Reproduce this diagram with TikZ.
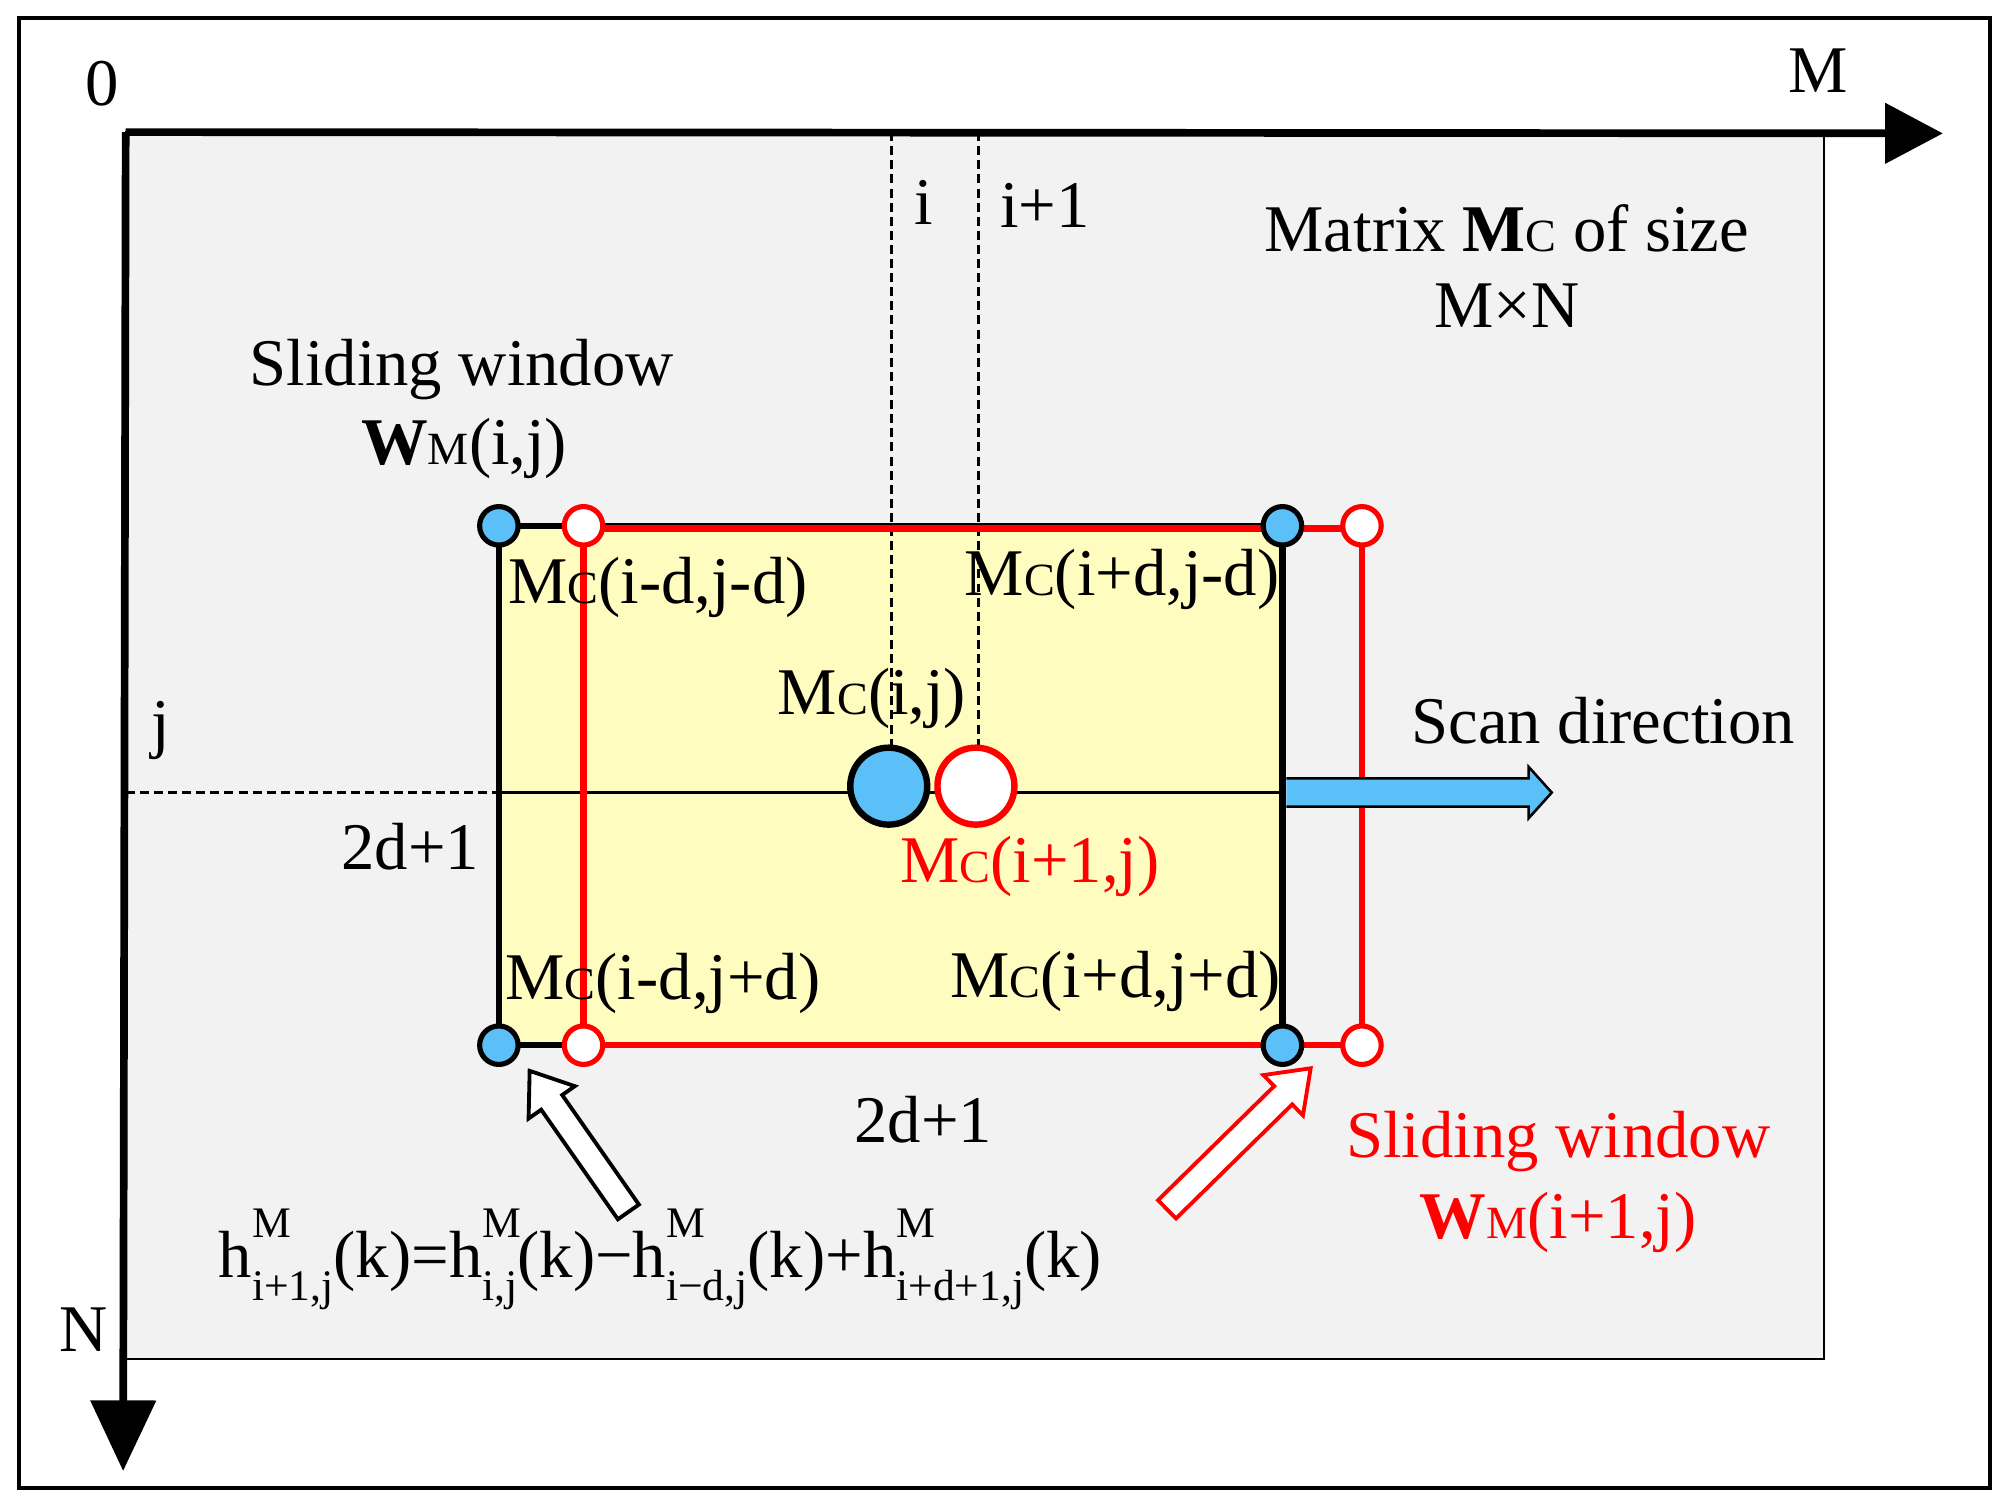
\documentclass[tikz,border=0pt]{standalone}
\usepackage{fontspec}
\setmainfont{Liberation Serif}
\usetikzlibrary{arrows.meta,calc}
\definecolor{skyb}{RGB}{91,192,248}
\begin{document}
\newcommand{\Mc}{M{\fontsize{36}{38}\selectfont C}}
\newcommand{\Wm}{\textbf{W}{\fontsize{36}{38}\selectfont M}}
\newcommand{\hsub}[1]{h\rlap{\raisebox{0.6em}{\fontsize{34}{34}\selectfont M}}\raisebox{-0.35em}{\fontsize{34}{34}\selectfont #1}}
\newcommand{\hollowarrow}[3]{% style, start, tip
  \coordinate (H) at ($(#3)!30pt!(#2)$);
  \draw[#1] ($(#2)!10pt!90:(#3)$) -- ($(H)!10pt!-90:(#2)$) -- ($(H)!22pt!-90:(#2)$) -- (#3)
     -- ($(H)!22pt!90:(#2)$) -- ($(H)!10pt!90:(#2)$) -- ($(#2)!10pt!-90:(#3)$) -- cycle;}
\begin{tikzpicture}[x=1pt,y=-1pt,
  txt/.style={font=\fontsize{52}{58}\selectfont, inner sep=0pt},
  corb/.style={circle, draw=black, line width=4pt, fill=skyb, minimum size=30pt, inner sep=0pt},
  corr/.style={circle, draw=red, line width=4pt, fill=white, minimum size=30pt, inner sep=0pt},
  win/.style={line width=5pt},
  dsh/.style={line width=2pt, dash pattern=on 7pt off 4pt}]
\useasboundingbox (0,0) rectangle (1565,1171);
\draw[line width=3pt] (15,14) rectangle (1552,1160);
\draw[fill=black!5, line width=1.5pt] (98,103) rectangle (1422,1060);
% axes
\coordinate (o) at (98,103);
\coordinate (mx) at (1515,104);
\coordinate (ny) at (96,1147);
\draw[line width=6pt, -{Triangle[length=45pt,width=46pt]}] (o) -- (mx);
\draw[line width=6pt, -{Triangle[length=55pt,width=50pt]}] (o) -- (ny);
\node[txt] (l0) at (80,65) {0};
\node[txt] (lM) at (1418,55) {M};
\node[txt] (lN) at (65,1037) {N};
% windows
\draw[win, fill=yellow!25] (389,410) rectangle (1000,815);
\coordinate (jl) at (98,618); \coordinate (jm) at (389,618); \coordinate (jr) at (1000,618);
\draw[dsh] (jl) -- (jm);
\draw[line width=2pt] (jm) -- (jr);
\draw[dsh] (695,103) -- (695,590);
\draw[dsh] (763,103) -- (763,585);
\draw[win, red] (455,412) rectangle (1062,815);
\node[corb] (b1) at (389,410) {}; \node[corb] (b2) at (1000,410) {};
\node[corb] (b3) at (389,815) {}; \node[corb] (b4) at (1000,815) {};
\node[corr] (r1) at (455,410) {}; \node[corr] (r2) at (1062,410) {};
\node[corr] (r3) at (455,815) {}; \node[corr] (r4) at (1062,815) {};
\node[circle, draw=black, line width=5pt, fill=skyb, minimum size=60pt, inner sep=0pt] (cij) at (693,613) {};
\node[circle, draw=red, line width=5pt, fill=white, minimum size=60pt, inner sep=0pt] (ci1) at (761,613) {};
% scan arrow
\draw[line width=2pt,fill=skyb] (1003,607) -- (1192,607) -- (1192,598) -- (1210,618) -- (1192,638) -- (1192,629) -- (1003,629);
% hollow arrows
\coordinate (as1) at (490,945); \coordinate (at1) at (413,835);
\coordinate (as2) at (910,943); \coordinate (at2) at (1022,833);
\hollowarrow{line width=3pt, fill=white}{as1}{at1}
\hollowarrow{line width=3pt, draw=red, fill=white}{as2}{at2}
% texts
\node[txt] (ti) at (720,158) {i};
\node[txt] (ti1) at (815,160) {i+1};
\node[txt] (tmat) at (1175,178) {Matrix \textbf{M}{\fontsize{36}{38}\selectfont C} of size};
\node[txt] (tmn) at (1175,238) {M×N};
\node[txt] (tsw) at (360,288) {Sliding window};
\node[txt] (twm) at (362,350) {\Wm(i,j)};
\node[txt] (c1) at (513,458) {\Mc(i-d,j-d)};
\node[txt] (c2) at (875,452) {\Mc(i+d,j-d)};
\node[txt] (cijt) at (680,545) {\Mc(i,j)};
\node[txt] (tj) at (125,570) {j};
\node[txt] (tscan) at (1250,562) {Scan direction};
\node[txt] (t2a) at (320,660) {2d+1};
\node[txt, red] (ci1t) at (803,676) {\Mc(i+1,j)};
\node[txt] (c3) at (517,767) {\Mc(i-d,j+d)};
\node[txt] (c4) at (870,765) {\Mc(i+d,j+d)};
\node[txt] (t2b) at (720,873) {2d+1};
\node[txt, red] (tsw2) at (1215,890) {Sliding window};
\node[txt, red] (twm2) at (1215,953) {\Wm(i+1,j)};
\node[txt] (form) at (515,982) {\hsub{i+1,j}(k)=\hsub{i,j}(k)−\hsub{i−d,j}(k)+\hsub{i+d+1,j}(k)};
\end{tikzpicture}
\end{document}
